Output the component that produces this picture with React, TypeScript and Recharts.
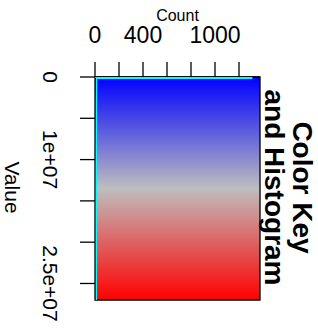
import React from 'react';
import { ComposedChart, XAxis, YAxis, Scatter, ReferenceArea } from 'recharts';

// top axis (Count)
const countTicks = [0, 200, 400, 600, 800, 1000, 1200];
const countTickLabels = ['0', '', '400', '', '', '1000', ''];
const countMax = 1375;

// left axis (Value)
const valueTicks = [0, 5e6, 1e7, 1.5e7, 2e7, 2.5e7];
const valueTickLabels = ['0', '', '1e+07', '', '', '2.5e+07'];
const valueMax = 2.7e7;

// histogram outline (value, count)
const histValues = [0, 0, 1.5e5, 1.5e5, 3e6, 6e6, 9e6, 1.2e7, 1.5e7, 1.8e7, 2.1e7, 2.4e7, 2.7e7];
const histCounts = [0, 1306, 1306, 13, 12, 12, 12, 12, 12, 12, 12, 12, 12];

const histData = histValues.map((v, i) => ({ value: v, count: histCounts[i] }));

const FONT = '"Liberation Sans", Arial, Helvetica, sans-serif';

// rotated text, reading top to bottom
const VText = ({ x, y, size, bold, children }: any) => (
  <g transform={`translate(${x},${y}) rotate(90)`}>
    <text x={0} y={0} textAnchor="middle" fontFamily={FONT} fontSize={size} fontWeight={bold ? 'bold' : 'normal'} fill="#000">
      {children}
    </text>
  </g>
);

const CountTick = (props: any) => {
  const { x, y, index } = props;
  const label = countTickLabels[index] ?? '';
  if (!label) return <g />;
  return (
    <text x={x} y={y - 17} textAnchor="middle" fontFamily={FONT} fontSize={23} fill="#000">
      {label}
    </text>
  );
};

const ValueTick = (props: any) => {
  const { x, y, index } = props;
  const label = valueTickLabels[index] ?? '';
  if (!label) return <g />;
  return (
    <VText x={x - 35} y={y} size={21}>
      {label}
    </VText>
  );
};

const CountLabel = (props: any) => {
  const { viewBox } = props;
  const cx = viewBox.x + viewBox.width / 2;
  return (
    <text x={cx} y={21} textAnchor="middle" fontFamily={FONT} fontSize={16} fill="#000">
      Count
    </text>
  );
};

const ValueLabel = (props: any) => {
  const { viewBox } = props;
  return (
    <VText x={5} y={viewBox.y + viewBox.height / 2 - 1} size={21}>
      Value
    </VText>
  );
};

const TitleLabel = (props: any) => {
  const { viewBox } = props;
  const cy = viewBox.y + viewBox.height / 2 - 1;
  return (
    <g>
      <VText x={viewBox.x + 33} y={cy} size={28} bold>
        Color Key
      </VText>
      <VText x={viewBox.x + 5} y={cy} size={28} bold>
        and Histogram
      </VText>
    </g>
  );
};

export default function App() {
  return (
    <div style={{ position: 'absolute', left: 0, top: 0, background: '#fff' }}>
      <ComposedChart width={318} height={330} data={histData} margin={{ top: 0, right: 0, bottom: 30, left: 0 }}>
        <defs>
          <linearGradient id="keyGrad" x1="0" y1="0" x2="0" y2="1">
            <stop offset="0%" stopColor="#0000ff" />
            <stop offset="50%" stopColor="#bebebe" />
            <stop offset="100%" stopColor="#ff0000" />
          </linearGradient>
        </defs>
        <XAxis
          xAxisId={0}
          type="number"
          dataKey="count"
          orientation="top"
          domain={[0, countMax]}
          ticks={countTicks}
          interval={0}
          height={77}
          tickSize={15}
          tickLine={{ stroke: '#000', strokeWidth: 1.3 }}
          axisLine={{ stroke: '#000', strokeWidth: 1.3 }}
          tick={<CountTick />}
          label={<CountLabel />}
          allowDataOverflow
        />
        <YAxis
          yAxisId={0}
          type="number"
          dataKey="value"
          orientation="left"
          reversed
          domain={[0, valueMax]}
          ticks={valueTicks}
          interval={0}
          width={95}
          tickSize={15}
          tickLine={{ stroke: '#000', strokeWidth: 1.3 }}
          axisLine={false}
          tick={<ValueTick />}
          label={<ValueLabel />}
          allowDataOverflow
        />
        <YAxis
          yAxisId="title"
          type="number"
          orientation="right"
          domain={[0, 1]}
          width={58}
          tick={false}
          tickLine={false}
          axisLine={false}
          label={<TitleLabel />}
        />
        <ReferenceArea
          xAxisId={0}
          yAxisId={0}
          x1={0}
          x2={countMax}
          y1={0}
          y2={valueMax}
          fill="url(#keyGrad)"
          fillOpacity={1}
          stroke="none"
        />
        <Scatter
          xAxisId={0}
          yAxisId={0}
          data={histData}
          dataKey="value"
          line={{ stroke: '#00ffff', strokeWidth: 1.3 }}
          shape={() => <g />}
          isAnimationActive={false}
        />
        <ReferenceArea
          xAxisId={0}
          yAxisId={0}
          x1={0}
          x2={countMax}
          y1={0}
          y2={valueMax}
          fill="none"
          stroke="#000"
          strokeWidth={1.3}
        />
      </ComposedChart>
    </div>
  );
}
